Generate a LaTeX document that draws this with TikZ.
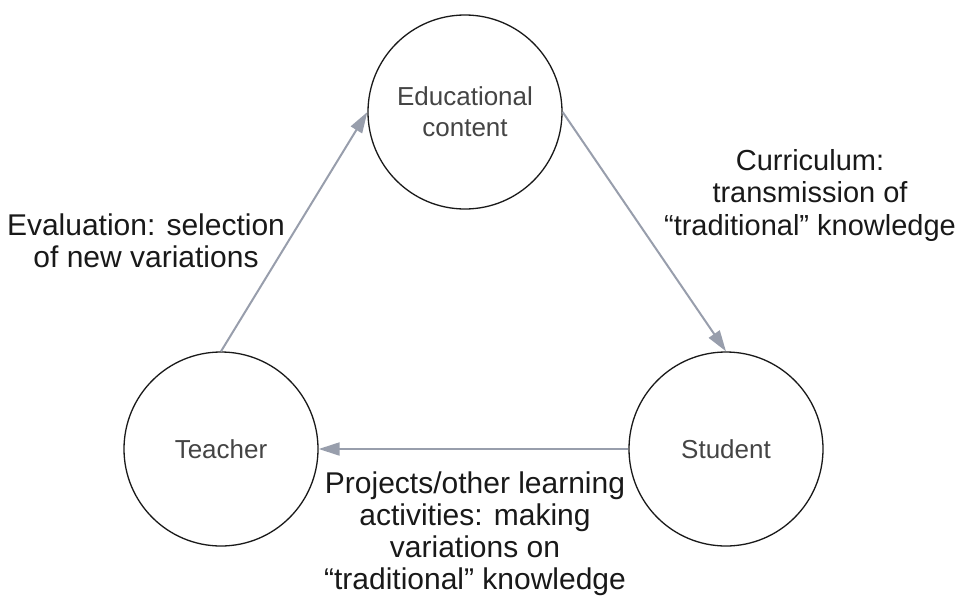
\documentclass[tikz,border=0pt]{standalone}
\usepackage{xcolor}
\usepackage{fontspec}
\setmainfont{Liberation Sans}
\usepackage{tikz}
\usetikzlibrary{arrows.meta}
\definecolor{gris}{RGB}{68,68,68}
\definecolor{flecha}{RGB}{152,158,172}
\definecolor{tinta}{RGB}{25,25,25}

\begin{document}
\begin{tikzpicture}[
        x=1pt, y=-1pt,
        actor/.style={circle, draw=tinta, line width=1.3pt, minimum size=194pt, inner sep=0pt, align=center, font=\fontsize{26}{31}\selectfont, text=gris},
        arrow/.style={-{Triangle[length=21pt,width=13pt]}, line width=2pt, flecha},
        label/.style={align=center, font=\fontsize{30}{32}\selectfont, text=tinta}
    ]
        \useasboundingbox (0,0) rectangle (961,595);

        \node[actor] (content) at (465,112) {Educational\\content};
        \node[actor] (teacher) at (221,449) {Teacher};
        \node[actor] (student) at (726,449) {Student};

        \node[label, font=\fontsize{29}{32.5}\selectfont] (curriculum) at (810,195) {Curriculum:\\transmission of\\“traditional” knowledge};
        \node[label] (evaluation) at (146,241) {Evaluation: selection\\of new variations};
        \node[label] (projects) at (475,534) {Projects/other learning\\activities: making\\variations on\\“traditional” knowledge};

        \draw[arrow] (content.east) -- (student.north);
        \draw[arrow] (student.west) -- (teacher.east);
        \draw[arrow] (teacher.north) -- (content.west);
    \end{tikzpicture}
\end{document}
